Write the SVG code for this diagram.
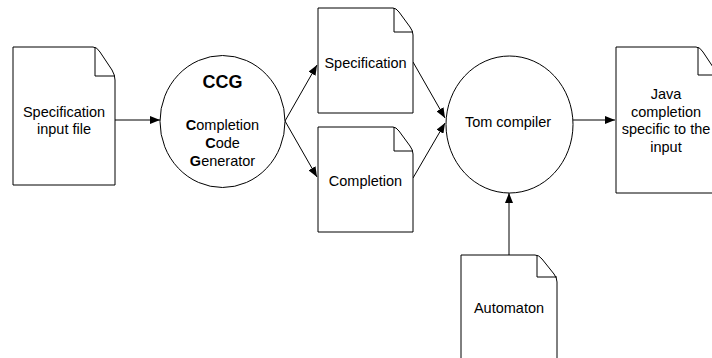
<svg xmlns="http://www.w3.org/2000/svg" width="712" height="358" viewBox="0 0 712 358">
<defs>
<marker id="ah" viewBox="0 0 10 8" refX="10" refY="4" markerWidth="10" markerHeight="8" markerUnits="userSpaceOnUse" orient="auto">
<path d="M0,0 L10,4 L0,8 Z" fill="#000"/>
</marker>
<style>
.shape{fill:#fff;stroke:#000;stroke-width:1}
.fold{fill:none;stroke:#000;stroke-width:1}
.t{font-family:"Liberation Sans",Arial,sans-serif;font-size:14.5px;fill:#000;text-anchor:middle}
.b{font-weight:bold}
.c{fill:none;stroke:#000;stroke-width:1;marker-end:url(#ah)}
</style>
</defs>
<rect width="712" height="358" fill="#fff"/>
<g id="connectors">
<path class="c" d="M115,120 L160,120"/>
<path class="c" d="M285,121 L317,65"/>
<path class="c" d="M285,121 L317,177"/>
<path class="c" d="M413,62 L445,118"/>
<path class="c" d="M413,178 L445,123"/>
<path class="c" d="M573,120 L615,120"/>
<path class="c" d="M509,255 L509,193"/>
</g>
<g id="spec-input">
<path class="shape" d="M13,47 L93,47 Q97,47 100,52 L112,70 Q115,75 115,80 L115,185 L13,185 Z"/>
<path class="fold" d="M95,47 L95,76 L115,76"/>
<text class="t" x="64" y="117">Specification</text>
<text class="t" x="64" y="133.5">input file</text>
</g>
<g id="ccg">
<ellipse class="shape" cx="222.5" cy="121.5" rx="62.5" ry="66"/>
<text class="t b" x="222.5" y="88" style="font-size:18px">CCG</text>
<text class="t" x="222.5" y="130"><tspan class="b">C</tspan>ompletion</text>
<text class="t" x="222.5" y="148"><tspan class="b">C</tspan>ode</text>
<text class="t" x="222.5" y="166"><tspan class="b">G</tspan>enerator</text>
</g>
<g id="spec">
<path class="shape" d="M318,8 L393,8 Q396,8 399,12 L410,27 Q413,31 413,35 L413,113 L318,113 Z"/>
<path class="fold" d="M394,8 L394,32 L413,32"/>
<text class="t" x="365.5" y="68">Specification</text>
</g>
<g id="completion">
<path class="shape" d="M318,127 L393,127 Q396,127 399,131 L410,146 Q413,150 413,154 L413,232 L318,232 Z"/>
<path class="fold" d="M394,127 L394,151 L413,151"/>
<text class="t" x="365.5" y="186">Completion</text>
</g>
<g id="tom">
<ellipse class="shape" cx="509.5" cy="124.5" rx="63.5" ry="68.5"/>
<text class="t" x="508" y="127">Tom compiler</text>
</g>
<g id="java">
<path class="shape" d="M616,47 L696,47 Q700,47 703,52 L715,70 Q718,75 718,80 L718,193 L616,193 Z"/>
<path class="fold" d="M698,47 L698,75 L718,75"/>
<text class="t" x="666" y="99">Java</text>
<text class="t" x="666" y="116.5">completion</text>
<text class="t" x="666" y="134">specific to the</text>
<text class="t" x="666" y="151.5">input</text>
</g>
<g id="automaton">
<path class="shape" d="M461,255 L535,255 Q539,255 542,259 L554,274 Q557,278 557,282 L557,370 L461,370 Z"/>
<path class="fold" d="M537,255 L537,277 L557,277"/>
<text class="t" x="509" y="313">Automaton</text>
</g>
</svg>
